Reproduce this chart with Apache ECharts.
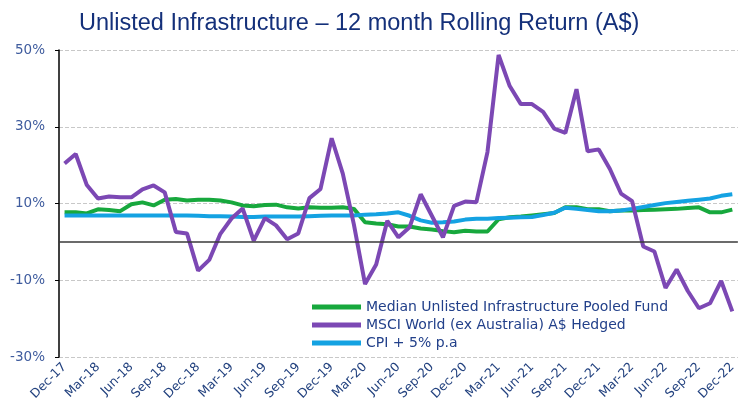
<!DOCTYPE html>
<html>
<head>
<meta charset="utf-8">
<script src="https://cdn.jsdelivr.net/npm/echarts@6/dist/echarts.min.js"></script>
<style>
  html, body { margin: 0; padding: 0; background: #fff; }
  #main { width: 739px; height: 414px; }
</style>
</head>
<body>
<div id="main"></div>
<script>
const months = [
  'Dec-17','Jan-18','Feb-18','Mar-18','Apr-18','May-18','Jun-18','Jul-18','Aug-18','Sep-18','Oct-18','Nov-18',
  'Dec-18','Jan-19','Feb-19','Mar-19','Apr-19','May-19','Jun-19','Jul-19','Aug-19','Sep-19','Oct-19','Nov-19',
  'Dec-19','Jan-20','Feb-20','Mar-20','Apr-20','May-20','Jun-20','Jul-20','Aug-20','Sep-20','Oct-20','Nov-20',
  'Dec-20','Jan-21','Feb-21','Mar-21','Apr-21','May-21','Jun-21','Jul-21','Aug-21','Sep-21','Oct-21','Nov-21',
  'Dec-21','Jan-22','Feb-22','Mar-22','Apr-22','May-22','Jun-22','Jul-22','Aug-22','Sep-22','Oct-22','Nov-22',
  'Dec-22'
];

// median unlisted infrastructure pooled fund
const medianFund = [
  7.7, 7.7, 7.4, 8.5, 8.3, 8.0, 9.8, 10.3, 9.5, 11.0, 11.2, 10.8,
  11.0, 11.0, 10.8, 10.3, 9.5, 9.3, 9.6, 9.7, 9.0, 8.7, 9.0, 8.9,
  8.9, 9.0, 8.6, 5.1, 4.8, 4.6, 4.0, 4.0, 3.5, 3.2, 2.8, 2.5,
  2.9, 2.7, 2.7, 5.9, 6.4, 6.6, 6.9, 7.2, 7.5, 9.0, 9.0, 8.5,
  8.5, 8.0, 8.2, 8.2, 8.3, 8.4, 8.5, 8.6, 8.8, 9.0, 7.7, 7.7,
  8.4
];

// MSCI World ex Aus, A$ hedged
const msciWorld = [
  20.4, 22.9, 14.8, 11.3, 11.8, 11.6, 11.6, 13.7, 14.7, 12.9, 2.6, 2.2,
  -7.5, -4.7, 2.1, 6.1, 8.7, 0.3, 6.2, 4.3, 0.7, 2.2, 11.4, 13.8,
  27.0, 17.8, 4.5, -11.0, -5.9, 5.5, 1.2, 3.8, 12.4, 6.8, 1.2, 9.4,
  10.5, 10.3, 23.4, 48.7, 40.6, 35.9, 35.9, 33.9, 29.5, 28.4, 39.8, 23.6,
  24.1, 19.0, 12.6, 10.6, -1.2, -2.5, -12.0, -7.2, -12.8, -17.3, -16.0, -10.2,
  -18.1
];

// CPI + 5% p.a
const cpiPlus5 = [
  6.9, 6.9, 6.9, 6.9, 6.9, 6.9, 6.9, 6.9, 6.9, 6.9, 6.9, 6.9,
  6.8, 6.7, 6.7, 6.6, 6.5, 6.5, 6.6, 6.6, 6.6, 6.6, 6.7, 6.8,
  6.9, 6.9, 6.9, 7.1, 7.2, 7.4, 7.7, 6.8, 5.6, 5.0, 5.1, 5.3,
  5.8, 6.0, 6.0, 6.2, 6.3, 6.4, 6.5, 7.0, 7.6, 8.9, 8.6, 8.3,
  8.0, 8.0, 8.2, 8.6, 9.1, 9.6, 10.1, 10.4, 10.7, 11.0, 11.3, 12.0,
  12.4
];

const seriesNames = [
  'Median Unlisted Infrastructure Pooled Fund',
  'MSCI World (ex Australia) A$ Hedged',
  'CPI + 5% p.a'
];

const myChart = echarts.init(document.getElementById('main'));

const option = {
  backgroundColor: '#ffffff',
  animation: false,
  title: {
    text: 'Unlisted Infrastructure \u2013 12 month Rolling Return (A$)',
    left: 74,
    top: 7,
    textStyle: {
      fontFamily: 'Liberation Sans',
      fontSize: 23.5,
      fontWeight: 'normal',
      color: '#14307a'
    }
  },
  legend: {
    data: seriesNames,
    orient: 'vertical',
    left: 307,
    top: 295,
    icon: 'rect',
    itemWidth: 49,
    itemHeight: 5,
    itemGap: 4,
    textStyle: {
      fontFamily: 'DejaVu Sans',
      fontSize: 14,
      color: '#22408a'
    }
  },
  grid: {
    left: 59,
    top: 50,
    width: 682,
    height: 307
  },
  xAxis: {
    type: 'category',
    data: months,
    boundaryGap: true,
    axisLine: { show: false, onZero: false },
    axisTick: { show: false },
    axisLabel: {
      interval: 2,
      rotate: 45,
      margin: 8,
      fontFamily: 'DejaVu Sans',
      fontSize: 12.5,
      color: '#23427f'
    }
  },
  yAxis: {
    type: 'value',
    min: -30,
    max: 50,
    interval: 20,
    axisLine: { show: true, lineStyle: { color: '#000', width: 1.5 } },
    axisTick: { show: true, length: 4, lineStyle: { color: '#000' } },
    axisLabel: {
      formatter: '{value}%',
      margin: 14,
      fontFamily: 'DejaVu Sans',
      fontSize: 13.5,
      color: '#3f5c9e'
    },
    splitLine: {
      lineStyle: { color: '#c8c8c8', type: 'dashed', width: 1 }
    }
  },
  series: [
    {
      name: seriesNames[0],
      type: 'line',
      data: medianFund,
      symbol: 'none',
      z: 2,
      lineStyle: { width: 4, color: '#17a83d' },
      itemStyle: { color: '#17a83d' },
      markLine: {
        silent: true,
        symbol: 'none',
        label: { show: false },
        lineStyle: { color: '#3a3a3a', width: 1.5, type: 'solid' },
        data: [{ yAxis: 0 }]
      }
    },
    {
      name: seriesNames[1],
      type: 'line',
      data: msciWorld,
      symbol: 'none',
      z: 4,
      lineStyle: { width: 4, color: '#7c48b4' },
      itemStyle: { color: '#7c48b4' }
    },
    {
      name: seriesNames[2],
      type: 'line',
      data: cpiPlus5,
      symbol: 'none',
      z: 3,
      lineStyle: { width: 4, color: '#14a2e2' },
      itemStyle: { color: '#14a2e2' }
    }
  ]
};

myChart.setOption(option);
</script>
</body>
</html>
